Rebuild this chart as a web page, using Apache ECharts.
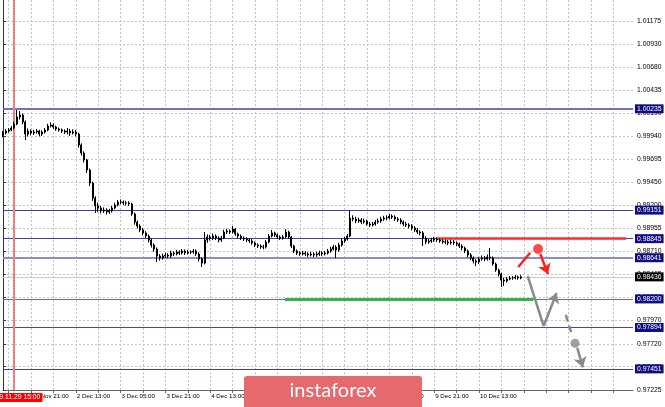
<!DOCTYPE html>
<html><head><meta charset="utf-8">
<script src="https://cdn.jsdelivr.net/npm/echarts/dist/echarts.min.js"></script>
<style>html,body{margin:0;padding:0;background:#fff}#c{width:665px;height:407px}</style>
</head><body><div id="c"></div>
<script>
// ---------- data ----------
const tradingDays = ['29 Nov','2 Dec','3 Dec','4 Dec','5 Dec','6 Dec','9 Dec','10 Dec','11 Dec','12 Dec'];
const firstHour = 11;
const barCount = 226;
const tickLabels = ['29 Nov 21:00','2 Dec 13:00','3 Dec 05:00','3 Dec 21:00','4 Dec 13:00','5 Dec 05:00','5 Dec 21:00','6 Dec 13:00','9 Dec 05:00','9 Dec 21:00','10 Dec 13:00'];
const yTicks = [0.97225,0.97475,0.97720,0.97970,0.98220,0.98465,0.98710,0.98955,0.99200,0.99450,0.99695,0.99940,1.00190,1.00435,1.00680,1.00930,1.01175];
const yMin = 0.97225, yMax = 1.01400;

const firstOpen = 0.99955;
const closes = [0.99976,0.99997,1.00008,1.00029,1.00072,1.00147,1.00169,1.00094,0.99965,0.99997,
0.99976,0.99987,0.99997,0.99965,0.99987,1.00008,1.00051,1.00062,1.00040,1.00019,
1.00008,0.99997,0.99987,0.99997,0.99976,0.99987,0.99965,0.99848,0.99762,0.99687,
0.99580,0.99441,0.99280,0.99195,0.99173,0.99141,0.99152,0.99130,0.99141,0.99173,
0.99205,0.99237,0.99237,0.99227,0.99227,0.99216,0.99109,0.99023,0.98980,0.98938,
0.98906,0.98873,0.98831,0.98777,0.98734,0.98659,0.98638,0.98659,0.98670,0.98659,
0.98691,0.98681,0.98702,0.98691,0.98713,0.98691,0.98702,0.98702,0.98713,0.98681,
0.98627,0.98584,0.98831,0.98863,0.98852,0.98873,0.98852,0.98831,0.98852,0.98916,
0.98927,0.98916,0.98948,0.98895,0.98873,0.98852,0.98841,0.98831,0.98820,0.98799,
0.98777,0.98766,0.98756,0.98756,0.98809,0.98873,0.98906,0.98884,0.98863,0.98852,
0.98863,0.98916,0.98863,0.98766,0.98713,0.98691,0.98681,0.98691,0.98681,0.98670,
0.98681,0.98670,0.98681,0.98691,0.98681,0.98691,0.98713,0.98734,0.98756,0.98724,
0.98777,0.98820,0.98841,0.98873,0.99066,0.99055,0.99034,0.99045,0.99023,0.99034,
0.99002,0.98991,0.99002,0.99023,0.99034,0.99055,0.99066,0.99066,0.99087,0.99077,
0.99055,0.99045,0.99023,0.99002,0.98991,0.98980,0.98959,0.98938,0.98916,0.98906,
0.98852,0.98809,0.98820,0.98831,0.98841,0.98831,0.98820,0.98809,0.98809,0.98799,
0.98809,0.98799,0.98788,0.98766,0.98745,0.98713,0.98670,0.98638,0.98606,0.98595,
0.98627,0.98638,0.98627,0.98649,0.98638,0.98574,0.98510,0.98467,0.98402,0.98392,
0.98413,0.98424,0.98424,0.98435,0.98424,0.98436];
const highs = [0.99998,1.00020,1.00030,1.00050,1.00100,1.00222,1.00211,1.00185,1.00110,1.00025,
1.00015,1.00010,1.00020,1.00010,1.00005,1.00030,1.00075,1.00090,1.00080,1.00055,
1.00035,1.00025,1.00015,1.00030,1.00020,1.00015,1.00010,0.99980,0.99865,0.99780,
0.99700,0.99595,0.99455,0.99300,0.99230,0.99195,0.99180,0.99170,0.99165,0.99195,
0.99230,0.99260,0.99265,0.99255,0.99250,0.99245,0.99230,0.99125,0.99040,0.99000,
0.98960,0.98925,0.98890,0.98850,0.98795,0.98750,0.98680,0.98685,0.98695,0.98690,
0.98715,0.98710,0.98725,0.98720,0.98735,0.98730,0.98725,0.98720,0.98735,0.98730,
0.98700,0.98645,0.98916,0.98890,0.98885,0.98900,0.98890,0.98870,0.98875,0.98940,
0.98950,0.98945,0.98980,0.98960,0.98910,0.98890,0.98870,0.98860,0.98850,0.98840,
0.98815,0.98795,0.98785,0.98780,0.98830,0.98895,0.98938,0.98920,0.98900,0.98880,
0.98885,0.98948,0.98930,0.98875,0.98780,0.98730,0.98710,0.98715,0.98710,0.98700,
0.98705,0.98700,0.98705,0.98715,0.98710,0.98715,0.98735,0.98760,0.98780,0.98775,
0.98800,0.98845,0.98865,0.98895,0.99152,0.99095,0.99080,0.99070,0.99065,0.99060,
0.99050,0.99025,0.99025,0.99045,0.99060,0.99080,0.99090,0.99095,0.99109,0.99105,
0.99095,0.99075,0.99065,0.99040,0.99025,0.99010,0.99000,0.98980,0.98960,0.98935,
0.98925,0.98870,0.98845,0.98855,0.98865,0.98860,0.98850,0.98840,0.98835,0.98830,
0.98835,0.98830,0.98815,0.98805,0.98785,0.98760,0.98730,0.98690,0.98655,0.98625,
0.98650,0.98665,0.98660,0.98675,0.98745,0.98655,0.98590,0.98525,0.98480,0.98425,
0.98435,0.98445,0.98445,0.98455,0.98450,0.98455];
const lows = [0.99930,0.99960,0.99980,0.99995,1.00015,1.00060,1.00120,1.00070,0.99901,0.99940,
0.99950,0.99955,0.99970,0.99940,0.99945,0.99970,0.99995,1.00035,1.00020,1.00000,
0.99990,0.99975,0.99965,0.99960,0.99945,0.99960,0.99940,0.99820,0.99735,0.99660,
0.99550,0.99410,0.99250,0.99120,0.99130,0.99115,0.99120,0.99105,0.99110,0.99125,
0.99160,0.99190,0.99215,0.99205,0.99200,0.99195,0.99090,0.98995,0.98955,0.98915,
0.98880,0.98850,0.98805,0.98750,0.98705,0.98595,0.98610,0.98620,0.98640,0.98635,
0.98640,0.98660,0.98665,0.98670,0.98675,0.98670,0.98675,0.98680,0.98685,0.98660,
0.98600,0.98542,0.98570,0.98800,0.98825,0.98830,0.98830,0.98805,0.98810,0.98840,
0.98895,0.98895,0.98900,0.98875,0.98850,0.98830,0.98820,0.98810,0.98800,0.98780,
0.98755,0.98745,0.98735,0.98730,0.98740,0.98795,0.98860,0.98865,0.98840,0.98830,
0.98835,0.98850,0.98845,0.98745,0.98690,0.98670,0.98660,0.98665,0.98660,0.98650,
0.98655,0.98645,0.98650,0.98660,0.98660,0.98665,0.98675,0.98695,0.98720,0.98638,
0.98705,0.98760,0.98800,0.98825,0.98860,0.99030,0.99010,0.99015,0.99000,0.99005,
0.98985,0.98970,0.98975,0.98985,0.99005,0.99015,0.99035,0.99040,0.99050,0.99055,
0.99035,0.99025,0.99000,0.98980,0.98970,0.98955,0.98935,0.98915,0.98895,0.98880,
0.98766,0.98785,0.98790,0.98800,0.98810,0.98810,0.98800,0.98790,0.98785,0.98775,
0.98780,0.98775,0.98765,0.98745,0.98720,0.98690,0.98645,0.98615,0.98580,0.98552,
0.98575,0.98610,0.98605,0.98610,0.98615,0.98555,0.98490,0.98440,0.98328,0.98338,
0.98375,0.98400,0.98405,0.98410,0.98405,0.98410];

const levels = [1.00235, 0.99151, 0.98845, 0.98641, 0.98200, 0.97894, 0.97451];
const currentPrice = 0.98436;
const markerIndex = 4;
const markerLabel = '2019.11.29 15:00';

// annotation drawings in (bar index, price)
const redLevelSpan = [[155, 0.98845], [222.5, 0.98845]];
const greenLevelSpan = [[100.7, 0.98200], [189.4, 0.98200]];
const redStroke = [[184.0, 0.98542], [188.3, 0.98695]];
const redArrow = [[191.9, 0.98681], [194.6, 0.98467]];
const redDot = [191.1, 0.98734];
const grayDown = [[187.4, 0.98445], [193.1, 0.97910]];
const grayUpArrow = [[193.1, 0.97910], [197.7, 0.98263]];
const grayDash = [[201.0, 0.98028], [202.9, 0.97843]];
const grayDot = [204.3, 0.97725];
const grayDownArrow = [[205.1, 0.97675], [207.1, 0.97468]];

// ---------- build ----------
const categories = [];
{
  let d = 0, h = firstHour;
  while (categories.length < barCount) {
    categories.push(tradingDays[d] + ' ' + String(h).padStart(2, '0') + ':00');
    h++; if (h === 24) { h = 0; d++; }
  }
}
const candles = closes.map((c, i) => [i === 0 ? firstOpen : closes[i - 1], c, lows[i], highs[i]]);

const FONT = 'Liberation Sans';
const gridEvery = (index) => (index - 2) % 8 === 0;
const lastX = barCount - 1;

const levelLineStyles = [
  { color: '#7070c8', width: 2 },
  { color: '#3f3fb0', width: 1.2 },
  { color: '#3f3fb0', width: 1.2 },
  { color: '#8c8cd2', width: 2 },
  { color: '#6464c0', width: 1.2 },
  { color: '#4646b4', width: 1.2 },
  { color: '#3c3cac', width: 1.2 }
];
const boxLabel = (txt, bg) => ({
  show: true, position: 'end', formatter: txt, distance: 2,
  backgroundColor: bg, color: '#fff', padding: [1, 2, 1, 2],
  fontSize: 6.8, fontFamily: FONT
});

const levelData = [{
  coords: [[0, currentPrice], [lastX, currentPrice]],
  lineStyle: { color: '#c8c8c8', width: 1 },
  label: boxLabel(currentPrice.toFixed(5), '#000')
}].concat(levels.map((v, k) => ({
  coords: [[0, v], [lastX, v]],
  lineStyle: levelLineStyles[k],
  label: boxLabel(v.toFixed(5), '#0e0e80')
})));

const option = {
  animation: false,
  backgroundColor: '#fff',
  grid: { left: 1.4, right: 32, top: 0, bottom: 17 },
  xAxis: [{
    type: 'category', data: categories, boundaryGap: false,
    axisLine: { show: true, lineStyle: { color: '#666', width: 1 } },
    axisTick: { show: true, interval: gridEvery, length: 3, lineStyle: { color: '#666' } },
    axisLabel: { interval: 0, formatter: (v) => tickLabels.includes(v) ? v : '',
      align: 'left', margin: 3, fontSize: 6.2, fontFamily: FONT, color: '#000', padding: [0, 0, 0, 1] },
    splitLine: { show: true, interval: gridEvery, lineStyle: { color: '#c4c4c4', type: [2, 2], width: 1 } }
  }, {
    type: 'value', min: 0, max: lastX, show: false
  }],
  yAxis: {
    type: 'value', position: 'right', min: yMin, max: yMax,
    axisLine: { show: true, lineStyle: { color: '#333' } },
    axisTick: { show: true, customValues: yTicks, length: 3, lineStyle: { color: '#333' } },
    axisLabel: { customValues: yTicks, formatter: (v) => v.toFixed(5), margin: 4,
      fontSize: 6.8, fontFamily: FONT, color: '#000' },
    splitLine: { show: true, lineStyle: { color: '#c4c4c4', type: [2, 2], width: 1 } }
  },
  series: [{
    // horizontal levels + current price line
    type: 'lines', coordinateSystem: 'cartesian2d', xAxisIndex: 1, yAxisIndex: 0,
    silent: true, clip: false, data: levelData, lineStyle: { opacity: 1, type: 'solid' }
  }, {
    // time marker
    type: 'lines', coordinateSystem: 'cartesian2d', xAxisIndex: 1, yAxisIndex: 0,
    silent: true, clip: false,
    data: [{ coords: [[markerIndex, yMin], [markerIndex, yMax]],
      label: { show: true, position: 'start', formatter: markerLabel, distance: 3,
        backgroundColor: '#ff0000', color: '#fff', padding: [1, 2, 1, 2], fontSize: 6.8, fontFamily: FONT } }],
    lineStyle: { color: '#f27d7d', width: 2, opacity: 1 }
  }, {
    type: 'candlestick', data: candles, barWidth: 1.5,
    itemStyle: { color: '#000', color0: '#000', borderColor: '#000', borderColor0: '#000', borderWidth: 1 }
  }, {
    type: 'lines', coordinateSystem: 'cartesian2d', xAxisIndex: 1, yAxisIndex: 0, silent: true,
    data: [{ coords: redLevelSpan, lineStyle: { color: '#ff2a2a', width: 2.5 } },
           { coords: greenLevelSpan, lineStyle: { color: '#35b34a', width: 3 } }],
    lineStyle: { opacity: 1 }
  }, {
    type: 'lines', coordinateSystem: 'cartesian2d', xAxisIndex: 1, yAxisIndex: 0, silent: true,
    data: [{ coords: redStroke, lineStyle: { color: '#ff2020' } },
           { coords: grayDown, lineStyle: { color: '#8a8a8a' } },
           { coords: grayDash, lineStyle: { color: '#8a8a8a', type: [7, 4] } }],
    lineStyle: { width: 2.5, opacity: 1 }
  }, {
    type: 'lines', coordinateSystem: 'cartesian2d', xAxisIndex: 1, yAxisIndex: 0, silent: true,
    symbol: ['none', 'arrow'], symbolSize: 10,
    data: [{ coords: redArrow, lineStyle: { color: '#ff2020' } },
           { coords: grayUpArrow, lineStyle: { color: '#8a8a8a' } },
           { coords: grayDownArrow, lineStyle: { color: '#8a8a8a' } }],
    lineStyle: { width: 2.5, opacity: 1 }
  }, {
    type: 'scatter', xAxisIndex: 1, yAxisIndex: 0, silent: true,
    data: [{ value: redDot, symbolSize: 10, itemStyle: { color: '#ff2020' } },
           { value: grayDot, symbolSize: 9, itemStyle: { color: '#8a8a8a' } }]
  }],
  graphic: [{
    type: 'group', left: 244, top: 376, silent: true, z: 100,
    children: [
      { type: 'rect', z: 100, shape: { x: 0, y: 0, width: 178, height: 34, r: 3 }, style: { fill: '#e5696d' } },
      { type: 'text', z: 101, style: { text: 'instaforex', x: 89, y: 15, align: 'center', verticalAlign: 'middle',
        font: '20px Lato', fill: '#fff' } }
    ]
  }]
};

const chart = echarts.init(document.getElementById('c'), null, { renderer: 'canvas' });
chart.setOption(option);
</script></body></html>
